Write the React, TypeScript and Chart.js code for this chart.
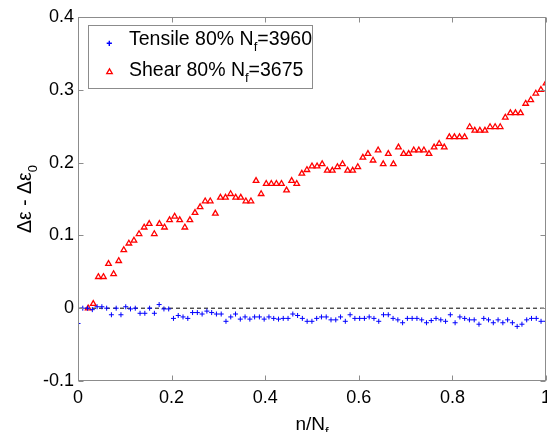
import React, { useEffect, useRef } from 'react';
import { Chart, registerables } from 'chart.js';

Chart.register(...registerables);

const FONT = "'Liberation Sans', Arial, Helvetica, sans-serif";

// Tick values
const xTickValues = [0, 0.2, 0.4, 0.6, 0.8, 1];
const yTickValues = [-0.1, 0, 0.1, 0.2, 0.3, 0.4];

// Tensile series (n/Nf sampled uniformly), Δε - Δε0
const tensileStep = 0.0102;
const tensileValues = [
  -0.021, 0.0, 0.0, -0.002, 0.002, 0.002, 0.0, -0.009, 0.0, -0.009,
  0.002, -0.001, 0.0, -0.007, -0.007, 0.0, -0.007, 0.005, -0.001, -0.001,
  -0.014, -0.01, -0.012, -0.014, -0.006, -0.006, -0.008, -0.004, -0.006, -0.008,
  -0.008, -0.018, -0.012, -0.008, -0.015, -0.012, -0.015, -0.012, -0.012, -0.015,
  -0.012, -0.014, -0.015, -0.014, -0.014, -0.008, -0.01, -0.014, -0.018, -0.018,
  -0.014, -0.012, -0.012, -0.016, -0.016, -0.012, -0.018, -0.009, -0.014, -0.014,
  -0.014, -0.012, -0.014, -0.018, -0.009, -0.009, -0.014, -0.016, -0.02, -0.014,
  -0.014, -0.014, -0.016, -0.02, -0.017, -0.014, -0.016, -0.018, -0.009, -0.02,
  -0.012, -0.014, -0.016, -0.016, -0.022, -0.014, -0.016, -0.02, -0.016, -0.02,
  -0.016, -0.02, -0.025, -0.022, -0.016, -0.014, -0.014, -0.018, -0.018,
];

// Shear series
const shearStart = 2 / 92;
const shearStep = 1 / 92;
const shearValues = [
  0.0, 0.006, 0.043, 0.043, 0.061, 0.047, 0.065, 0.08, 0.089, 0.093,
  0.102, 0.111, 0.116, 0.102, 0.116, 0.111, 0.121, 0.126, 0.121, 0.111,
  0.121, 0.131, 0.139, 0.147, 0.147, 0.13, 0.152, 0.152, 0.157, 0.152,
  0.152, 0.147, 0.147, 0.175, 0.157, 0.171, 0.171, 0.171, 0.171, 0.162,
  0.175, 0.171, 0.185, 0.19, 0.195, 0.195, 0.198, 0.189, 0.189, 0.194,
  0.198, 0.189, 0.189, 0.194, 0.207, 0.212, 0.203, 0.217, 0.198, 0.212,
  0.198, 0.221, 0.212, 0.212, 0.217, 0.217, 0.217, 0.212, 0.221, 0.226,
  0.221, 0.235, 0.235, 0.235, 0.235, 0.249, 0.244, 0.244, 0.244, 0.249,
  0.249, 0.249, 0.262, 0.268, 0.268, 0.268, 0.281, 0.286, 0.295, 0.3,
  0.309,
];

const zeroLineX = [0, 1];

type Part = { text: string; sub?: boolean };
const legendEntries: { parts: Part[]; color: string; marker: 'cross' | 'triangle' }[] = [
  { parts: [{ text: 'Tensile 80% N' }, { text: 'f', sub: true }, { text: '=3960' }], color: '#0000ff', marker: 'cross' },
  { parts: [{ text: 'Shear 80% N' }, { text: 'f', sub: true }, { text: '=3675' }], color: '#ff0000', marker: 'triangle' },
];
const xTitleParts: Part[] = [{ text: 'n/N' }, { text: 'f', sub: true }];
const yTitleParts: Part[] = [{ text: 'Δε - Δε' }, { text: '0', sub: true }];

const TICK_SIZE = 18;

function partsWidth(ctx: CanvasRenderingContext2D, parts: Part[], main: number, sub: number) {
  let w = 0;
  for (const p of parts) {
    ctx.font = `${p.sub ? sub : main}px ${FONT}`;
    w += ctx.measureText(p.text).width;
  }
  return w;
}
function drawParts(ctx: CanvasRenderingContext2D, parts: Part[], x: number, y: number, main: number, sub: number, subDy: number) {
  let cx = x;
  ctx.textBaseline = 'alphabetic';
  ctx.textAlign = 'left';
  for (const p of parts) {
    ctx.font = `${p.sub ? sub : main}px ${FONT}`;
    ctx.fillText(p.text, cx, y + (p.sub ? subDy : 0));
    cx += ctx.measureText(p.text).width;
  }
}

function drawCross(ctx: CanvasRenderingContext2D, x: number, y: number, r: number, color: string) {
  ctx.strokeStyle = color;
  ctx.lineWidth = 1.4;
  ctx.beginPath();
  ctx.moveTo(x - r, y);
  ctx.lineTo(x + r, y);
  ctx.moveTo(x, y - r);
  ctx.lineTo(x, y + r);
  ctx.stroke();
}
function drawTriangle(ctx: CanvasRenderingContext2D, x: number, y: number, r: number, color: string) {
  ctx.strokeStyle = color;
  ctx.lineWidth = 1.3;
  ctx.beginPath();
  ctx.moveTo(x, y - r);
  ctx.lineTo(x + r * 0.866, y + r * 0.5);
  ctx.lineTo(x - r * 0.866, y + r * 0.5);
  ctx.closePath();
  ctx.stroke();
}

function fmt(v: number) {
  const r = Math.round(v * 10) / 10;
  return r === 0 ? '0' : String(r);
}

const framePlugin = {
  id: 'matlabFrame',
  afterDraw(chart: any) {
    const ctx: CanvasRenderingContext2D = chart.ctx;
    const { left, right, top, bottom } = chart.chartArea;
    const xs = chart.scales.x;
    const ys = chart.scales.y;
    const L = Math.round(left) + 0.5;
    const R = Math.round(right) - 0.5;
    const T = Math.round(top) + 0.5;
    const B = Math.round(bottom) - 0.5;
    ctx.save();
    ctx.strokeStyle = '#8c8c8c';
    ctx.lineWidth = 1;
    ctx.strokeRect(L, T, R - L, B - T);
    ctx.beginPath();
    for (const v of xTickValues) {
      const px = Math.round(xs.getPixelForValue(v)) + 0.5;
      ctx.moveTo(px, B);
      ctx.lineTo(px, B - 5);
      ctx.moveTo(px, T);
      ctx.lineTo(px, T + 5);
    }
    for (const v of yTickValues) {
      const py = Math.round(ys.getPixelForValue(v)) + 0.5;
      ctx.moveTo(L, py);
      ctx.lineTo(L + 5, py);
      ctx.moveTo(R, py);
      ctx.lineTo(R - 5, py);
    }
    ctx.stroke();

    // last x tick label (clipped at the canvas edge, as in the original)
    ctx.fillStyle = '#000';
    ctx.font = `${TICK_SIZE}px ${FONT}`;
    ctx.textAlign = 'center';
    ctx.textBaseline = 'middle';
    const lastX = xTickValues[xTickValues.length - 1];
    ctx.fillText(fmt(lastX), xs.getPixelForValue(lastX), bottom + 16.8);

    // Legend
    ctx.fillStyle = '#ffffff';
    ctx.fillRect(88.5, 25.5, 224, 63);
    ctx.strokeStyle = '#8c8c8c';
    ctx.lineWidth = 1;
    ctx.strokeRect(88.5, 25.5, 224, 63);
    const rows = [{ my: 43, by: 45 }, { my: 72, by: 76 }];
    legendEntries.forEach((e, i) => {
      if (e.marker === 'cross') drawCross(ctx, 109.3, rows[i].my + 0.3, 2.6, e.color);
      else drawTriangle(ctx, 109.5, rows[i].my, 3.2, e.color);
      ctx.fillStyle = '#000';
      drawParts(ctx, e.parts, 129, rows[i].by, 19.5, 13, 6);
    });

    // Axis titles
    ctx.fillStyle = '#000';
    const cx = (left + right) / 2;
    const wx = partsWidth(ctx, xTitleParts, 19, 13);
    drawParts(ctx, xTitleParts, cx - wx / 2, 430, 19, 13, 6);

    const cy = (top + bottom) / 2;
    const wy = partsWidth(ctx, yTitleParts, 19.5, 13);
    ctx.translate(31, cy);
    ctx.rotate(-Math.PI / 2);
    drawParts(ctx, yTitleParts, -wy / 2, 0, 19.5, 13, 6);
    ctx.restore();
  },
};

export default function App() {
  const ref = useRef<HTMLCanvasElement | null>(null);
  useEffect(() => {
    if (!ref.current) return;
    const tensile = tensileValues.map((y, i) => ({ x: i * tensileStep, y }));
    const shear = shearValues.map((y, i) => ({ x: shearStart + i * shearStep, y }));
    const zero = zeroLineX.map((x) => ({ x, y: 0 }));
    const lastX = xTickValues[xTickValues.length - 1];
    const chart = new Chart(ref.current, {
      type: 'scatter',
      data: {
        datasets: [
          {
            label: 'Tensile 80% Nf=3960',
            data: tensile,
            pointStyle: 'cross',
            pointRadius: 2.5,
            borderColor: '#0000ff',
            backgroundColor: '#0000ff',
            pointBorderWidth: 1,
          },
          {
            label: 'Shear 80% Nf=3675',
            data: shear,
            pointStyle: 'triangle',
            pointRadius: 3.2,
            borderColor: '#ff0000',
            backgroundColor: 'rgba(0,0,0,0)',
            pointBorderWidth: 1.3,
          },
          {
            type: 'line',
            label: 'zero',
            data: zero,
            showLine: true,
            pointRadius: 0,
            borderColor: '#000000',
            borderWidth: 1,
            borderDash: [4, 3],
            fill: false,
          } as any,
        ],
      },
      options: {
        responsive: false,
        animation: false,
        layout: { autoPadding: false, padding: { top: 17, right: 1, left: 0, bottom: 0 } },
        plugins: { legend: { display: false }, tooltip: { enabled: false } },
        scales: {
          x: {
            type: 'linear',
            min: 0,
            max: 1,
            grid: { display: false, drawTicks: false },
            border: { display: false },
            ticks: {
              stepSize: 0.2,
              autoSkip: false,
              maxRotation: 0,
              padding: 0,
              color: '#000',
              font: { family: FONT, size: TICK_SIZE, lineHeight: 1.867 },
              callback: (v: any) => (Math.abs(Number(v) - lastX) < 1e-9 ? '' : fmt(Number(v))),
            },
            afterFit: (s: any) => {
              s.height = 51;
              s.paddingLeft = 0;
              s.paddingRight = 0;
            },
          },
          y: {
            type: 'linear',
            min: -0.1,
            max: 0.4,
            grid: { display: false, drawTicks: false },
            border: { display: false },
            ticks: {
              stepSize: 0.1,
              autoSkip: false,
              padding: 4,
              color: '#000',
              font: { family: FONT, size: TICK_SIZE },
              callback: (v: any) => fmt(Number(v)),
            },
            afterFit: (s: any) => {
              s.width = 78;
              s.paddingTop = 0;
              s.paddingBottom = 0;
            },
          },
        },
      },
      plugins: [framePlugin],
    });
    return () => chart.destroy();
  }, []);
  return (
    <div style={{ position: 'fixed', left: 0, top: 0, width: 547, height: 432, background: '#fff', overflow: 'hidden' }}>
      <canvas ref={ref} width={547} height={432} style={{ display: 'block' }} />
    </div>
  );
}
